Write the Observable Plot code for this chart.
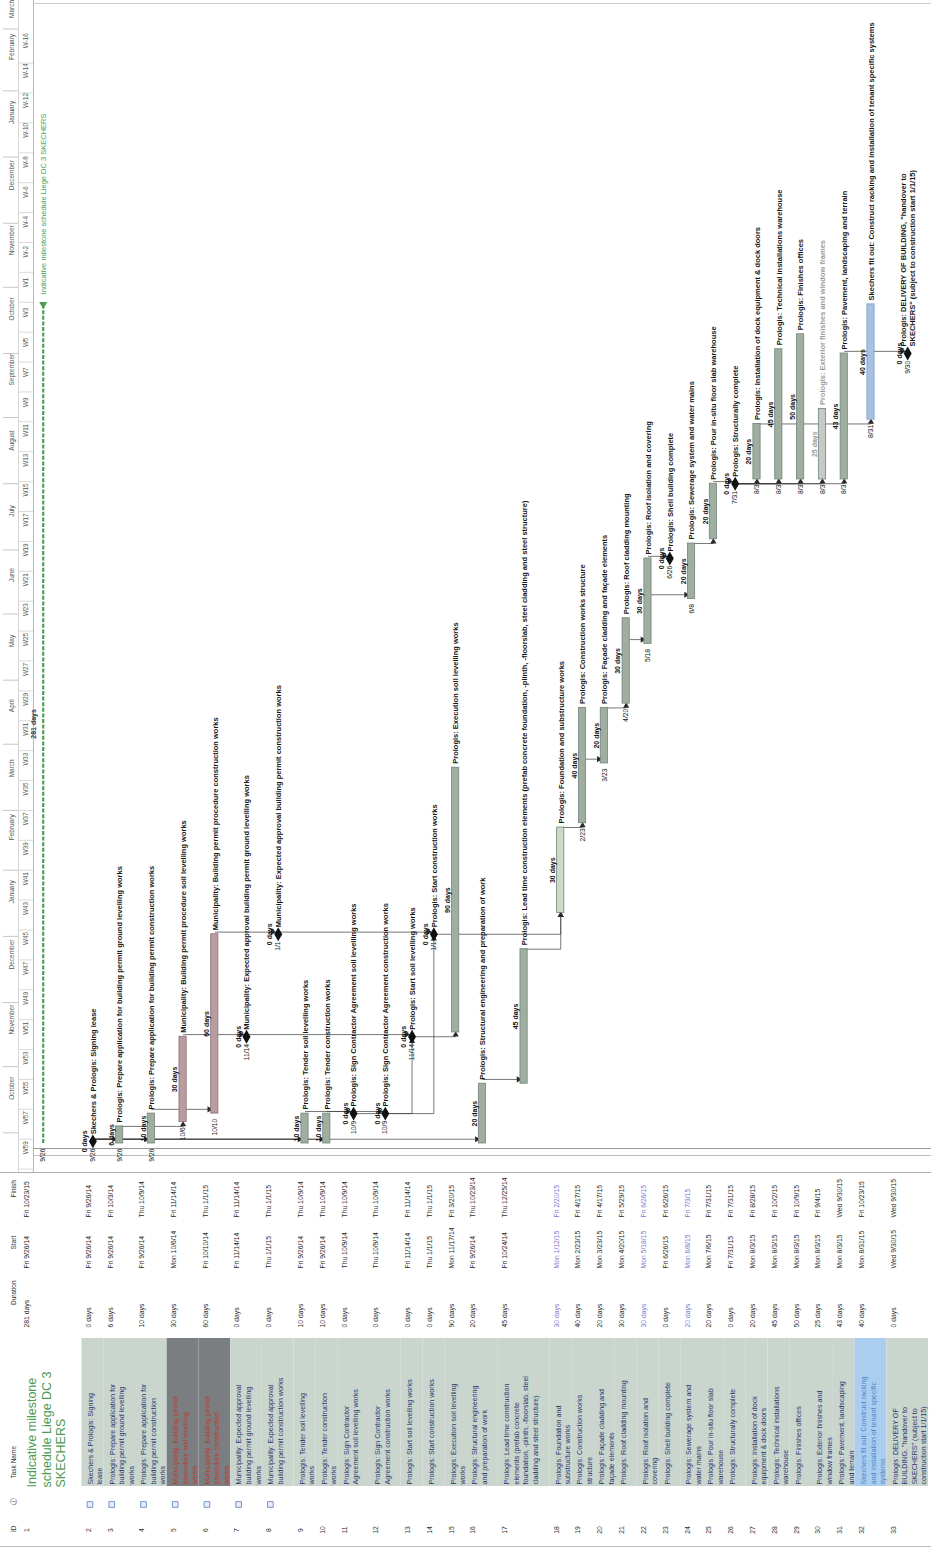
<!DOCTYPE html>
<html>
<head>
<meta charset="utf-8">
<script src="https://cdn.jsdelivr.net/npm/d3@7"></script>
<script src="https://cdn.jsdelivr.net/npm/@observablehq/plot@0.6"></script>
<style>
  html, body { margin: 0; padding: 0; background: #fff; }
  #chart { width: 931px; }
  #chart svg { display: block; }
</style>
</head>
<body>
<div id="chart"></div>
<script>
// ---------------- data ----------------
const taskNames = [
  "Indicative milestone\nschedule Liege DC 3\nSKECHERS",
  "Skechers & Prologis: Signing\nlease",
  "Prologis: Prepare application for\nbuilding permit ground levelling\nworks",
  "Prologis: Prepare application for\nbuilding permit construction\nworks",
  "Municipality: Building permit\nprocedure soil levelling\nworks",
  "Municipality: Building permit\nprocedure construction\nworks",
  "Municipality: Expected approval\nbuilding permit ground levelling\nworks",
  "Municipality: Expected approval\nbuilding permit construction works",
  "Prologis: Tender soil levelling\nworks",
  "Prologis: Tender construction\nworks",
  "Prologis: Sign Contractor\nAgreement soil levelling works",
  "Prologis: Sign Contractor\nAgreement construction works",
  "Prologis: Start soil levelling works",
  "Prologis: Start construction works",
  "Prologis: Execution soil levelling\nworks",
  "Prologis: Structural engineering\nand preparation of work",
  "Prologis: Lead time construction\nelements (prefab concrete\nfoundation, -plinth, -floorslab, steel\ncladding and steel structure)",
  "Prologis: Foundation and\nsubstructure works",
  "Prologis: Construction works\nstructure",
  "Prologis: Façade cladding and\nfaçade elements",
  "Prologis: Roof cladding mounting",
  "Prologis: Roof isolation and\ncovering",
  "Prologis: Shell building complete",
  "Prologis: Sewerage system and\nwater mains",
  "Prologis: Pour in-situ floor slab\nwarehouse",
  "Prologis: Structurally complete",
  "Prologis: Installation of dock\nequipment & dock doors",
  "Prologis: Technical installations\nwarehouse",
  "Prologis: Finishes offices",
  "Prologis: Exterior finishes and\nwindow frames",
  "Prologis: Pavement, landscaping\nand terrain",
  "Skechers fit out: Construct racking\nand installation of tenant specific\nsystems",
  "Prologis: DELIVERY OF\nBUILDING, \"handover to\nSKECHERS\" (subject to\nconstruction start 1/1/15)"
];
const durations = [281,0,6,10,30,60,0,0,10,10,0,0,0,0,90,20,45,30,40,20,30,30,0,20,20,0,20,45,50,25,43,40,0];
const startDates = ["2014-09-26","2014-09-26","2014-09-26","2014-09-26","2014-10-06","2014-10-10","2014-11-14","2015-01-01",
  "2014-09-26","2014-09-26","2014-10-09","2014-10-09","2014-11-14","2015-01-01","2014-11-17","2014-09-26","2014-10-24",
  "2015-01-12","2015-02-23","2015-03-23","2015-04-20","2015-05-18","2015-06-26","2015-06-08","2015-07-06","2015-07-31",
  "2015-08-03","2015-08-03","2015-08-03","2015-08-03","2015-08-03","2015-08-31","2015-09-30"];
const finishDates = ["2015-10-23","2014-09-26","2014-10-03","2014-10-09","2014-11-14","2015-01-01","2014-11-14","2015-01-01",
  "2014-10-09","2014-10-09","2014-10-09","2014-10-09","2014-11-14","2015-01-01","2015-03-20","2014-10-23","2014-12-25",
  "2015-02-20","2015-04-17","2015-04-17","2015-05-29","2015-06-26","2015-06-26","2015-07-03","2015-07-31","2015-07-31",
  "2015-08-28","2015-10-02","2015-10-09","2015-09-04","2015-09-30","2015-10-23","2015-09-30"];
const dependencies = [[2,3],[2,4],[2,9],[2,10],[2,16],[3,5],[4,6],[5,7],[6,8],[9,11],[10,12],[7,13],[11,13],
  [8,14],[12,14],[13,15],[16,17],[14,18],[17,18],[18,19],[19,20],[20,21],[21,22],[22,23],[22,24],[24,25],
  [25,26],[26,27],[26,28],[26,29],[26,30],[26,31],[27,32],[31,33]];
const noStartLabelRows = [9,10,15,16,17,18,25];
const noteRows = [2,3,4,5,6,7,8];
const monthLabels = ["October","November","December","January","February","March","April","May","June",
  "July","August","September","October","November","December","January","February","March"];
const weekLabels = ["W59","W57","W55","W53","W51","W49","W47","W45","W43","W41","W39","W37","W35","W33","W31",
  "W29","W27","W25","W23","W21","W19","W17","W15","W13","W11","W9","W7","W5","W3","W1",
  "W-2","W-4","W-6","W-8","W-10","W-12","W-14","W-16"];
const weekBinStart = "2014-09-14";
const columnHeaders = ["Finish","Start","Duration","Task Name","ⓘ","ID"];

// ---------------- layout / style ----------------
const layout = {
  rowLines: [6,2,3,3,3,3,3,3,2,2,3,3,2,2,2,3,5,2,2,2,2,2,2,2,2,2,2,2,2,2,2,3,4],
  colWidths: [50,54,57,157,28,27]
};
const style = {
  mauveRows: [5,6], lightRows: [18], blueRows: [32], greyRows: [30], lavenderRows: [18,22,24],
  font: "'Liberation Sans', Arial, sans-serif", labelSize: 7.5
};

// ---------------- derived ----------------
const parse = d3.utcParse("%Y-%m-%d");
const DAY = 864e5;
const tasks = taskNames.map((name, i) => {
  const start = parse(startDates[i]), finish = parse(finishDates[i]);
  return {id: i + 1, name, label: name.replace(/\n/g, " "), dur: durations[i], start, finish,
    end: new Date(+finish + DAY), milestone: durations[i] === 0};
});
let acc = 0;
tasks.forEach((t, i) => { const h = 10 * layout.rowLines[i] + 2; t.x0 = acc; t.x1 = acc + h; t.xc = acc + h / 2; acc += h; });
const rowTotal = acc;
const xRange = [20, 928];
const k = (xRange[1] - xRange[0]) / rowTotal;
const X = {domain: [0, rowTotal], range: xRange, axis: null};

const GH = 1172, TH = 378;
const yDomain = [parse("2014-09-26"), parse("2015-10-01")];
const yRange = [1143, 353];
const yFn = d3.scaleUtc(yDomain, yRange);
const topDate = yFn.invert(0);

// measure labels; wrap a gantt label onto two lines when it would run past the top edge
const ctx = document.createElement("canvas").getContext("2d");
ctx.font = `bold ${style.labelSize}px 'Liberation Sans', Arial, sans-serif`;
const measure = s => ctx.measureText(s).width;
function fitLabel(t, gap) {
  const avail = yFn(t.end) - gap - 4;
  if (measure(t.label) <= avail) return t.label;
  const words = t.label.split(" ");
  let line = "", i = 0;
  while (i < words.length && measure(line + " " + words[i]) < avail * 0.6) { line += (line ? " " : "") + words[i]; i++; }
  return line + "\n" + words.slice(i).join(" ");
}
tasks.forEach(t => { t.glabel = fitLabel(t, t.milestone ? 7 : 4); });

const months = d3.utcMonth.range(parse("2014-10-01"), parse("2016-04-01")).map((d, i) => {
  const next = d3.utcMonth.offset(d, 1);
  const hi = next > topDate ? d3.utcDay.offset(topDate, -3) : next;
  return {label: monthLabels[i], start: d, mid: new Date((+d + +hi) / 2)};
});
const weeks = weekLabels.map((w, i) => {
  const s = d3.utcDay.offset(parse(weekBinStart), 14 * i);
  return {label: w, start: s, mid: d3.utcDay.offset(s, 7)};
});

const deps = dependencies.map(([a, b]) => {
  const p = tasks[a - 1], s = tasks[b - 1];
  const vertical = (+s.start - +p.end) > 1.5 * DAY;
  if (vertical) {
    return {x1: p.xc, y1: p.end, x2: s.xc, y2: new Date(+s.start - 1.6 * DAY),
      ax: s.xc, ay: new Date(+s.start - 1.1 * DAY), rot: 0};
  }
  const t = new Date(+s.start + 2 * DAY);
  return {x1: p.xc, y1: t, x2: s.xc - 6 / k, y2: t, ax: s.xc - 5.5 / k, ay: t, rot: 90};
});

const has = (arr, id) => arr.includes(id);
const barFill = d => has(style.mauveRows, d.id) ? "#b99c9f" : has(style.lightRows, d.id) ? "#ccdac6"
  : has(style.blueRows, d.id) ? "#a7c1e0" : has(style.greyRows, d.id) ? "#c3ccc4" : "#9fae9f";
const barStroke = d => has(style.mauveRows, d.id) ? "#8c6f73" : has(style.blueRows, d.id) ? "#7f9dc4" : "#74837a";
const labelFill = d => has(style.greyRows, d.id) ? "#9a9a9a" : "#151515";

const bars = tasks.filter(t => t.id > 1 && !t.milestone);
const ms = tasks.filter(t => t.milestone);
const summary = [tasks[0]];
const fmtMD = d3.utcFormat("%-m/%-d");
const fmtFull = d3.utcFormat("%a %-m/%-d/%y");
const green = "#4c9c55";

// ---------------- gantt ----------------
const gantt = Plot.plot({
  width: 931, height: GH,
  marginLeft: 33, marginRight: 0, marginTop: 0, marginBottom: 0,
  style: {fontFamily: style.font, background: "#fff"},
  x: X,
  y: {type: "utc", domain: yDomain, range: yRange, label: null},
  marks: [
    // timescale header
    Plot.axisY(months.map(m => m.start), {anchor: "left", tickSize: 15, dx: -15, tickFormat: () => "", label: null, stroke: "#c6c6c6"}),
    Plot.axisY(weeks.map(w => w.start), {anchor: "left", tickSize: 15, tickFormat: () => "", label: null, stroke: "#dadada"}),
    Plot.text(months, {frameAnchor: "left", y: "mid", text: "label", dx: -22, rotate: -90, fontSize: 6.5, fill: "#555"}),
    Plot.text(weeks, {frameAnchor: "left", y: "mid", text: "label", dx: -8, rotate: -90, fontSize: 6.3, fill: "#555"}),
    Plot.frame({anchor: "left", stroke: "#b9b9b9"}),
    Plot.frame({anchor: "left", dx: -15, stroke: "#d6d6d6"}),
    Plot.frame({anchor: "top", dy: 3, stroke: "#c9c9c9"}),
    // project start lines
    Plot.ruleY([yDomain[0]], {dy: 5, stroke: "#8c8c8c", strokeWidth: 0.9}),
    Plot.ruleY([yDomain[0]], {dy: 12, stroke: "#b5b5b5", strokeWidth: 0.9}),
    // connectors
    Plot.link(deps, {x1: "x1", y1: "y1", x2: "x2", y2: "y2", curve: "step-after", stroke: "#3c3c3c", strokeWidth: 0.7}),
    Plot.dot(deps, {x: "ax", y: "ay", symbol: "triangle", r: 2.3, rotate: "rot", fill: "#2a2a2a", stroke: "none"}),
    // summary
    Plot.ruleX(summary, {x: "xc", y1: "start", y2: "end", dx: -8, stroke: green, strokeWidth: 2.2, strokeDasharray: "4,1.6"}),
    Plot.dot(summary, {x: "xc", y: "end", dx: -8, symbol: "triangle", r: 3, rotate: 180, fill: green}),
    Plot.text(summary, {x: "xc", y: "end", dx: -8, dy: -10, text: "label", rotate: -90, textAnchor: "start", fontSize: 7.5, fill: green}),
    Plot.text(summary, {x: "xc", y: d => new Date((+d.start + +d.end) / 2), dx: -17, text: d => `${d.dur} days`, rotate: -90, fontSize: 7, fontWeight: "bold", fill: "#333"}),
    Plot.text(summary, {x: "xc", y: "start", dx: -8, dy: 5, text: d => fmtMD(d.start), rotate: -90, textAnchor: "end", fontSize: 6.8, fill: "#222"}),
    // bars
    Plot.rect(bars, {x1: d => d.xc - 3.6 / k, x2: d => d.xc + 3.6 / k, y1: "start", y2: "end", fill: barFill, stroke: barStroke, strokeWidth: 0.8}),
    // milestones
    Plot.dot(ms, {x: "xc", y: "end", symbol: "diamond", r: 4.2, fill: "#111", stroke: "none"}),
    // labels
    Plot.text(bars, {x: "xc", y: "end", dy: -4, text: "glabel", rotate: -90, textAnchor: "start", lineAnchor: "middle", lineHeight: 1.15, fontSize: style.labelSize, fontWeight: "bold", fill: labelFill}),
    Plot.text(ms, {x: "xc", y: "end", dy: -7, text: "glabel", rotate: -90, textAnchor: "start", lineAnchor: "middle", lineHeight: 1.15, fontSize: style.labelSize, fontWeight: "bold", fill: labelFill}),
    Plot.text(bars, {x: "xc", y: d => new Date((+d.start + +d.end) / 2), dx: -8, text: d => `${d.dur} days`, rotate: -90, fontSize: 7, fontWeight: "bold", fill: labelFill}),
    Plot.text(ms, {x: "xc", y: "end", dx: -8, text: d => `${d.dur} days`, rotate: -90, fontSize: 7, fontWeight: "bold", fill: "#151515"}),
    Plot.text(tasks.filter(t => t.id > 1 && !noStartLabelRows.includes(t.id)), {x: "xc", y: "start", dy: 5, text: d => fmtMD(d.start), rotate: -90, textAnchor: "end", fontSize: 6.8, fill: "#222"})
  ]
});

// ---------------- table ----------------
let cy = 0;
const cols = layout.colWidths.map((w, i) => { const c = {key: columnHeaders[i], y0: cy, y1: cy + w, yc: cy + w / 2}; cy += w; return c; });
const [FIN, STA, DUR, TN, IND, IDC] = cols;
const rows = tasks.slice(1);
const bgFill = d => has(style.mauveRows, d.id) ? "#7b7e80" : has(style.blueRows, d.id) ? "#abcdf0" : "#c9d5cd";
const nameFill = d => has(style.mauveRows, d.id) ? "#c0392f" : has(style.blueRows, d.id) ? "#4d86c9" : "#2b366d";
const valFill = d => has(style.lavenderRows, d.id) ? "#7b79cf" : "#2a2a2a";
const lx = d => d.x0 + 4 / k;

const table = Plot.plot({
  width: 931, height: TH, margin: 0,
  style: {fontFamily: style.font, background: "#fff"},
  x: X,
  y: {domain: [0, TH], range: [0, TH], axis: null},
  marks: [
    Plot.rect(rows, {x1: "x0", x2: "x1", y1: TN.y0 + 5, y2: TN.y1 - 4, fill: bgFill}),
    Plot.frame({anchor: "top", stroke: "#b0b0b0"}),
    Plot.frame({anchor: "bottom", dy: -4, stroke: "#bdbdbd"}),
    // column headers
    Plot.text(cols.filter(c => c.key !== "Task Name"), {frameAnchor: "left", dx: 13, y: "yc", text: "key", rotate: -90, fontSize: 6.5, fill: "#333"}),
    Plot.text([TN], {frameAnchor: "left", dx: 13, y: d => d.y1 - 12, text: "key", rotate: -90, textAnchor: "start", fontSize: 6.5, fill: "#333"}),
    // title row
    Plot.text(summary, {x: d => d.x0 + 5 / k, y: TN.y1 - 3, text: "name", rotate: -90, textAnchor: "start", lineAnchor: "top", fontSize: 12.5, lineHeight: 1.17, fill: green}),
    // task names
    Plot.text(rows, {x: lx, y: TN.y1 - 6, text: "name", rotate: -90, textAnchor: "start", lineAnchor: "top", fontSize: 7.1, lineHeight: 1.35, fill: nameFill}),
    // values
    Plot.text(tasks, {x: lx, y: DUR.y1 - 6, text: d => `${d.dur} days`, rotate: -90, textAnchor: "start", lineAnchor: "top", fontSize: 6.8, fill: valFill}),
    Plot.text(tasks, {x: lx, y: STA.y1 - 8, text: d => fmtFull(d.start), rotate: -90, textAnchor: "start", lineAnchor: "top", fontSize: 6.8, fill: valFill}),
    Plot.text(tasks, {x: lx, y: FIN.y1 - 5, text: d => fmtFull(d.finish), rotate: -90, textAnchor: "start", lineAnchor: "top", fontSize: 6.8, fill: valFill}),
    // indicators
    Plot.dot(tasks.filter(t => noteRows.includes(t.id)), {x: d => d.x0 + 8 / k, y: IND.yc, symbol: "square", r: 3.2, stroke: "#6a88c4", fill: "#e9eefa", strokeWidth: 0.9}),
    // IDs
    Plot.text(tasks, {x: lx, y: IDC.yc - 2, text: d => String(d.id), rotate: -90, lineAnchor: "top", fontSize: 6.8, fill: "#333"})
  ]
});

const root = document.getElementById("chart");
root.appendChild(gantt);
root.appendChild(table);
</script>
</body>
</html>
